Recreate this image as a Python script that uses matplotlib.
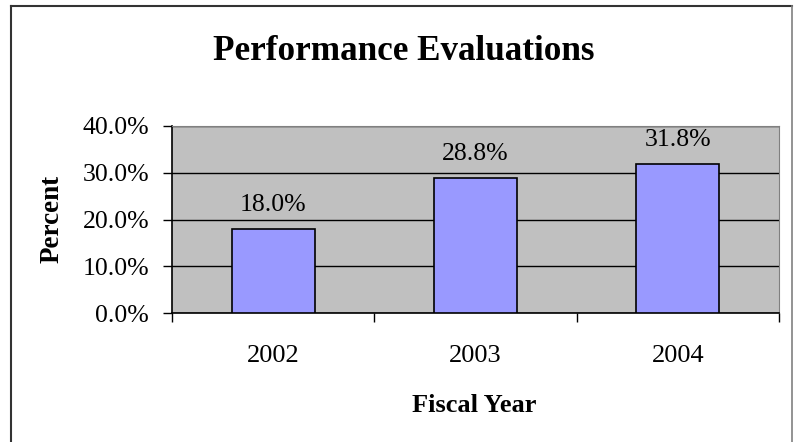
import matplotlib.pyplot as plt
import numpy as np
from matplotlib.lines import Line2D

years = ["2002", "2003", "2004"]
percents = [18.0, 28.8, 31.8]
yticks = [0, 10, 20, 30, 40]

plt.rcParams['font.family'] = ['Liberation Serif', 'DejaVu Serif']

fig = plt.figure(figsize=(7.94, 4.42), dpi=100)
ax = fig.add_axes([172 / 794, 1 - 313 / 442, (779 - 172) / 794, (313 - 126) / 442])
ax.set_facecolor('#C0C0C0')

x = np.arange(len(years))
ax.bar(x, percents, width=0.41, color='#9999FF', edgecolor='black', linewidth=1.2, zorder=3)
for xi, v in zip(x, percents):
    ax.annotate(f"{v:.1f}%", (xi, v), xytext=(0, 13), textcoords='offset points',
                ha='center', va='baseline', fontsize=18.5)

ax.set_xlim(-0.5, len(years) - 0.5)
ax.set_ylim(0, 40)
ax.set_yticks(yticks)
ax.set_yticklabels([f"{t:.1f}%" for t in yticks], fontsize=18.5)
ax.yaxis.grid(True, color='black', linewidth=1)
ax.set_axisbelow(True)

ax.set_xticks(np.arange(len(years) + 1) - 0.5)
ax.set_xticklabels([])
ax.set_xticks(x, minor=True)
ax.set_xticklabels(years, minor=True, fontsize=19)
ax.tick_params(axis='x', which='minor', length=0, pad=23)
ax.tick_params(axis='both', which='major', direction='out', length=6.5, width=1, color='black')
ax.tick_params(axis='y', pad=10)

for side in ['top', 'right']:
    ax.spines[side].set_color('#808080')
for side in ['left', 'bottom']:
    ax.spines[side].set_color('black')
    ax.spines[side].set_linewidth(1.2)

fig.text(404 / 794, 1 - 59.5 / 442, "Performance Evaluations", ha='center', va='baseline',
         fontsize=25.3, fontweight='bold')
fig.text(474 / 794, 1 - 412.5 / 442, "Fiscal Year", ha='center', va='baseline',
         fontsize=19, fontweight='bold')
fig.text(52 / 794, 1 - 219 / 442, "Percent", ha='center', va='center',
         fontsize=19.5, fontweight='bold', rotation=90)

# outer chart border
fig.add_artist(Line2D([11 / 794, 11 / 794], [0, 1 - 6 / 442], color='#333333', lw=1.5))
fig.add_artist(Line2D([11 / 794, 792 / 794], [1 - 6 / 442, 1 - 6 / 442], color='#333333', lw=1.5))
fig.add_artist(Line2D([792 / 794, 792 / 794], [0, 1 - 6 / 442], color='#808080', lw=1.2))

plt.savefig("out.png", dpi=100)
